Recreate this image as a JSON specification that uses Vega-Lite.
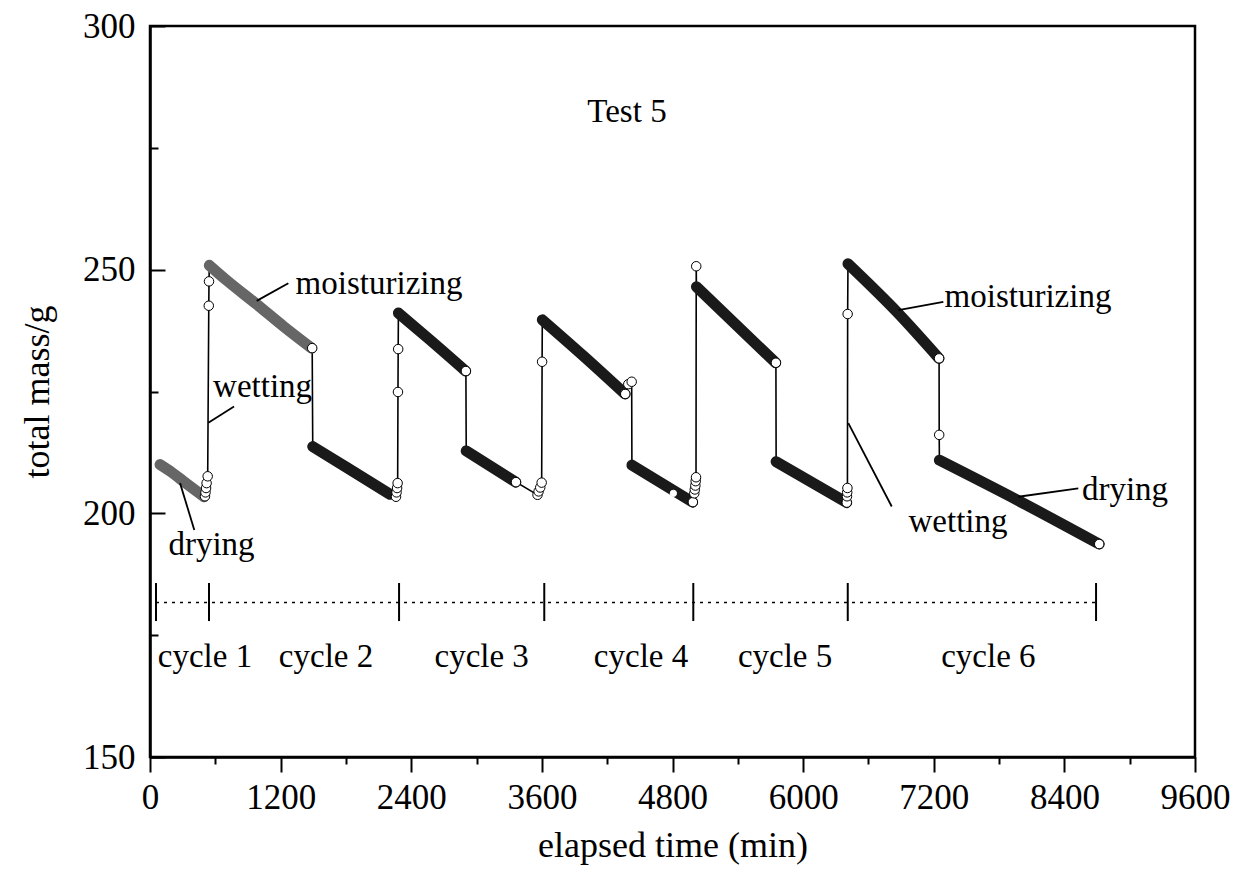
{
  "$schema": "https://vega.github.io/schema/vega-lite/v6.json",
  "width": 1045,
  "height": 731,
  "autosize": "none",
  "padding": {"left": 150, "top": 26, "right": 50, "bottom": 126},
  "background": "white",
  "config": {
    "view": {"stroke": "black", "strokeWidth": 2.5},
    "font": "Liberation Serif",
    "text": {"font": "Liberation Serif", "fontSize": 33, "color": "black"}
  },
  "datasets": {
    "series": [
      {"i": 1, "t": 92, "m": 210.0, "seg": "A", "kind": "band"},
      {"i": 2, "t": 200, "m": 208.4, "seg": "A", "kind": "band"},
      {"i": 3, "t": 300, "m": 206.7, "seg": "A", "kind": "band"},
      {"i": 4, "t": 400, "m": 205.0, "seg": "A", "kind": "band"},
      {"i": 5, "t": 496, "m": 203.4, "seg": "A", "kind": "band"},
      {"i": 6, "t": 505, "m": 203.5, "seg": "", "kind": "open"},
      {"i": 7, "t": 510, "m": 204.3, "seg": "", "kind": "open"},
      {"i": 8, "t": 515, "m": 205.2, "seg": "", "kind": "open"},
      {"i": 9, "t": 520, "m": 206.2, "seg": "", "kind": "open"},
      {"i": 10, "t": 530, "m": 207.6, "seg": "", "kind": "open"},
      {"i": 11, "t": 540, "m": 242.6, "seg": "", "kind": "open"},
      {"i": 12, "t": 542, "m": 247.6, "seg": "", "kind": "open"},
      {"i": 13, "t": 545, "m": 250.9, "seg": "M1", "kind": "band"},
      {"i": 14, "t": 705, "m": 247.8, "seg": "M1", "kind": "band"},
      {"i": 15, "t": 980, "m": 242.9, "seg": "M1", "kind": "band"},
      {"i": 16, "t": 1225, "m": 238.4, "seg": "M1", "kind": "band"},
      {"i": 17, "t": 1485, "m": 233.9, "seg": "M1", "kind": "band"},
      {"i": 18, "t": 1490, "m": 233.9, "seg": "", "kind": "open"},
      {"i": 19, "t": 1495, "m": 213.7, "seg": "D2", "kind": "band"},
      {"i": 20, "t": 1800, "m": 209.5, "seg": "D2", "kind": "band"},
      {"i": 21, "t": 2205, "m": 203.9, "seg": "D2", "kind": "band"},
      {"i": 22, "t": 2260, "m": 203.4, "seg": "", "kind": "open"},
      {"i": 23, "t": 2265, "m": 204.3, "seg": "", "kind": "open"},
      {"i": 24, "t": 2270, "m": 205.2, "seg": "", "kind": "open"},
      {"i": 25, "t": 2275, "m": 206.2, "seg": "", "kind": "open"},
      {"i": 26, "t": 2278, "m": 224.9, "seg": "", "kind": "open"},
      {"i": 27, "t": 2280, "m": 233.7, "seg": "", "kind": "open"},
      {"i": 28, "t": 2282, "m": 241.1, "seg": "M2", "kind": "band"},
      {"i": 29, "t": 2572, "m": 235.6, "seg": "M2", "kind": "band"},
      {"i": 30, "t": 2900, "m": 229.2, "seg": "M2", "kind": "band"},
      {"i": 31, "t": 2902, "m": 229.2, "seg": "", "kind": "open"},
      {"i": 32, "t": 2905, "m": 212.8, "seg": "D3", "kind": "band"},
      {"i": 33, "t": 3360, "m": 206.4, "seg": "D3", "kind": "band"},
      {"i": 34, "t": 3362, "m": 206.4, "seg": "", "kind": "open"},
      {"i": 35, "t": 3560, "m": 203.8, "seg": "", "kind": "open"},
      {"i": 36, "t": 3570, "m": 204.5, "seg": "", "kind": "open"},
      {"i": 37, "t": 3585, "m": 205.3, "seg": "", "kind": "open"},
      {"i": 38, "t": 3598, "m": 206.3, "seg": "", "kind": "open"},
      {"i": 39, "t": 3602, "m": 231.1, "seg": "", "kind": "open"},
      {"i": 40, "t": 3604, "m": 239.7, "seg": "M3", "kind": "band"},
      {"i": 41, "t": 3981, "m": 232.3, "seg": "M3", "kind": "band"},
      {"i": 42, "t": 4364, "m": 224.5, "seg": "M3", "kind": "band"},
      {"i": 43, "t": 4366, "m": 224.5, "seg": "", "kind": "open"},
      {"i": 44, "t": 4394, "m": 226.5, "seg": "", "kind": "open"},
      {"i": 45, "t": 4425, "m": 227.0, "seg": "", "kind": "open"},
      {"i": 46, "t": 4427, "m": 209.9, "seg": "D4", "kind": "band"},
      {"i": 47, "t": 4808, "m": 204.7, "seg": "D4", "kind": "band"},
      {"i": 48, "t": 4985, "m": 202.3, "seg": "D4", "kind": "band"},
      {"i": 49, "t": 4987, "m": 202.3, "seg": "", "kind": "open"},
      {"i": 50, "t": 5000, "m": 204.1, "seg": "", "kind": "open"},
      {"i": 51, "t": 5005, "m": 204.9, "seg": "", "kind": "open"},
      {"i": 52, "t": 5010, "m": 205.7, "seg": "", "kind": "open"},
      {"i": 53, "t": 5013, "m": 206.6, "seg": "", "kind": "open"},
      {"i": 54, "t": 5016, "m": 207.4, "seg": "", "kind": "open"},
      {"i": 55, "t": 5018, "m": 250.7, "seg": "", "kind": "open"},
      {"i": 56, "t": 5020, "m": 246.5, "seg": "M4", "kind": "band"},
      {"i": 57, "t": 5748, "m": 230.9, "seg": "M4", "kind": "band"},
      {"i": 58, "t": 5750, "m": 230.9, "seg": "", "kind": "open"},
      {"i": 59, "t": 5752, "m": 210.6, "seg": "D5", "kind": "band"},
      {"i": 60, "t": 6400, "m": 202.2, "seg": "D5", "kind": "band"},
      {"i": 61, "t": 6401, "m": 202.2, "seg": "", "kind": "open"},
      {"i": 62, "t": 6403, "m": 203.5, "seg": "", "kind": "open"},
      {"i": 63, "t": 6405, "m": 204.3, "seg": "", "kind": "open"},
      {"i": 64, "t": 6407, "m": 205.2, "seg": "", "kind": "open"},
      {"i": 65, "t": 6409, "m": 240.9, "seg": "", "kind": "open"},
      {"i": 66, "t": 6412, "m": 251.2, "seg": "M5", "kind": "band"},
      {"i": 67, "t": 6875, "m": 241.0, "seg": "M5", "kind": "band"},
      {"i": 68, "t": 7248, "m": 231.8, "seg": "M5", "kind": "band"},
      {"i": 69, "t": 7249, "m": 231.8, "seg": "", "kind": "open"},
      {"i": 70, "t": 7250, "m": 216.1, "seg": "", "kind": "open"},
      {"i": 71, "t": 7252, "m": 210.9, "seg": "D6", "kind": "band"},
      {"i": 72, "t": 7977, "m": 202.6, "seg": "D6", "kind": "band"},
      {"i": 73, "t": 8719, "m": 193.7, "seg": "D6", "kind": "band"},
      {"i": 74, "t": 8720, "m": 193.7, "seg": "", "kind": "open"}
    ],
    "gaps": [
      {"t": 4808, "m": 204.1}
    ],
    "bar": [{"x": 55, "x2": 8691, "y": 181.7}],
    "ticks": [
      {"x": 55, "y": 177.9, "y2": 185.7},
      {"x": 542, "y": 177.9, "y2": 185.7},
      {"x": 2288, "y": 177.9, "y2": 185.7},
      {"x": 3622, "y": 177.9, "y2": 185.7},
      {"x": 4991, "y": 177.9, "y2": 185.7},
      {"x": 6410, "y": 177.9, "y2": 185.7},
      {"x": 8691, "y": 177.9, "y2": 185.7}
    ],
    "labels": [
      {"x": 505, "y": 170.6, "text": "cycle 1"},
      {"x": 1617, "y": 170.6, "text": "cycle 2"},
      {"x": 3047, "y": 170.6, "text": "cycle 3"},
      {"x": 4511, "y": 170.6, "text": "cycle 4"},
      {"x": 5834, "y": 170.6, "text": "cycle 5"},
      {"x": 7702, "y": 170.6, "text": "cycle 6"},
      {"x": 4382, "y": 282.4, "text": "Test 5"},
      {"x": 2104, "y": 247.0, "text": "moisturizing"},
      {"x": 1034, "y": 226.0, "text": "wetting"},
      {"x": 565, "y": 193.4, "text": "drying"},
      {"x": 8066, "y": 244.3, "text": "moisturizing"},
      {"x": 7423, "y": 198.2, "text": "wetting"},
      {"x": 8957, "y": 204.8, "text": "drying"}
    ],
    "leaders": [
      {"x": 980, "y": 243.6, "x2": 1271, "y2": 247.2},
      {"x": 536, "y": 218.6, "x2": 772, "y2": 221.9},
      {"x": 276, "y": 206.2, "x2": 407, "y2": 196.6},
      {"x": 6875, "y": 241.7, "x2": 7288, "y2": 243.4},
      {"x": 6415, "y": 218.5, "x2": 6814, "y2": 201.4},
      {"x": 7977, "y": 203.4, "x2": 8528, "y2": 205.1}
    ]
  },
  "layer": [
    {
      "data": {"name": "series"},
      "mark": {"type": "line", "color": "black", "strokeWidth": 1.6},
      "encoding": {
        "x": {
          "field": "t", "type": "quantitative", "title": "elapsed time  (min)",
          "scale": {"domain": [0, 9600], "nice": false, "zero": false},
          "axis": {
            "values": [0, 600, 1200, 1800, 2400, 3000, 3600, 4200, 4800, 5400, 6000, 6600, 7200, 7800, 8400, 9000, 9600],
            "format": "d",
            "labelExpr": "datum.value % 1200 === 0 ? datum.label : ''",
            "tickSize": {"condition": {"test": "datum.value % 1200 === 0", "value": 15}, "value": 7},
            "tickWidth": 2, "tickColor": "black",
            "domainWidth": 2.5, "domainColor": "black",
            "labelFont": "Liberation Serif", "labelFontSize": 35, "labelColor": "black",
            "labelPadding": 8, "labelFlush": false, "labelOverlap": false,
            "titleFont": "Liberation Serif", "titleFontSize": 36, "titleFontWeight": "normal", "titleColor": "black",
            "titlePadding": 13, "grid": false
          }
        },
        "y": {
          "field": "m", "type": "quantitative", "title": "total mass/g",
          "scale": {"domain": [150, 300], "nice": false, "zero": false},
          "axis": {
            "values": [150, 175, 200, 225, 250, 275, 300],
            "labelExpr": "datum.value % 50 === 0 ? datum.label : ''",
            "tickSize": {"condition": {"test": "datum.value % 50 === 0", "value": -15}, "value": -8},
            "tickWidth": 2, "tickColor": "black",
            "domainWidth": 2.5, "domainColor": "black",
            "labelFont": "Liberation Serif", "labelFontSize": 35, "labelColor": "black",
            "labelPadding": 30, "labelOverlap": false, "labelFlush": false,
            "titleFont": "Liberation Serif", "titleFontSize": 36, "titleFontWeight": "normal", "titleColor": "black",
            "titlePadding": 26, "grid": false
          }
        },
        "order": {"field": "i", "type": "quantitative"}
      }
    },
    {
      "data": {"name": "series"},
      "transform": [{"filter": "datum.kind === 'band'"}],
      "mark": {"type": "line", "strokeWidth": 11, "strokeCap": "round", "strokeJoin": "round", "interpolate": "monotone"},
      "encoding": {
        "x": {"field": "t", "type": "quantitative", "title": "elapsed time  (min)"},
        "y": {"field": "m", "type": "quantitative", "title": "total mass/g"},
        "detail": {"field": "seg"},
        "order": {"field": "i", "type": "quantitative"},
        "color": {
          "field": "seg", "type": "nominal", "legend": null,
          "scale": {"domain": ["A", "M1", "D2", "M2", "D3", "M3", "D4", "M4", "D5", "M5", "D6"],
                    "range": ["#666666", "#666666", "#1a1a1a", "#1a1a1a", "#1a1a1a", "#1a1a1a", "#1a1a1a", "#1a1a1a", "#1a1a1a", "#1a1a1a", "#1a1a1a"]}
        }
      }
    },
    {
      "data": {"name": "series"},
      "transform": [{"filter": "datum.kind === 'open'"}],
      "mark": {"type": "point", "shape": "circle", "filled": false, "fill": "white", "fillOpacity": 1, "stroke": "black", "strokeWidth": 1, "size": 90, "opacity": 1},
      "encoding": {
        "x": {"field": "t", "type": "quantitative", "title": "elapsed time  (min)"},
        "y": {"field": "m", "type": "quantitative", "title": "total mass/g"}
      }
    },
    {
      "data": {"name": "gaps"},
      "mark": {"type": "point", "shape": "circle", "filled": false, "fill": "white", "fillOpacity": 1, "stroke": "white", "strokeWidth": 1, "size": 40, "opacity": 1},
      "encoding": {
        "x": {"field": "t", "type": "quantitative", "title": "elapsed time  (min)"},
        "y": {"field": "m", "type": "quantitative", "title": "total mass/g"}
      }
    },
    {
      "data": {"name": "bar"},
      "mark": {"type": "rule", "color": "black", "strokeWidth": 1.5, "strokeDash": [3, 5]},
      "encoding": {
        "x": {"field": "x", "type": "quantitative", "title": "elapsed time  (min)"},
        "x2": {"field": "x2"},
        "y": {"field": "y", "type": "quantitative", "title": "total mass/g"}
      }
    },
    {
      "data": {"name": "ticks"},
      "mark": {"type": "rule", "color": "black", "strokeWidth": 2},
      "encoding": {
        "x": {"field": "x", "type": "quantitative", "title": "elapsed time  (min)"},
        "y": {"field": "y", "type": "quantitative", "title": "total mass/g"},
        "y2": {"field": "y2"}
      }
    },
    {
      "data": {"name": "leaders"},
      "mark": {"type": "rule", "color": "black", "strokeWidth": 1.8},
      "encoding": {
        "x": {"field": "x", "type": "quantitative", "title": "elapsed time  (min)"},
        "y": {"field": "y", "type": "quantitative", "title": "total mass/g"},
        "x2": {"field": "x2"},
        "y2": {"field": "y2"}
      }
    },
    {
      "data": {"name": "labels"},
      "mark": {"type": "text", "font": "Liberation Serif", "fontSize": 33, "color": "black", "align": "center", "baseline": "middle"},
      "encoding": {
        "x": {"field": "x", "type": "quantitative", "title": "elapsed time  (min)"},
        "y": {"field": "y", "type": "quantitative", "title": "total mass/g"},
        "text": {"field": "text"}
      }
    }
  ]
}
